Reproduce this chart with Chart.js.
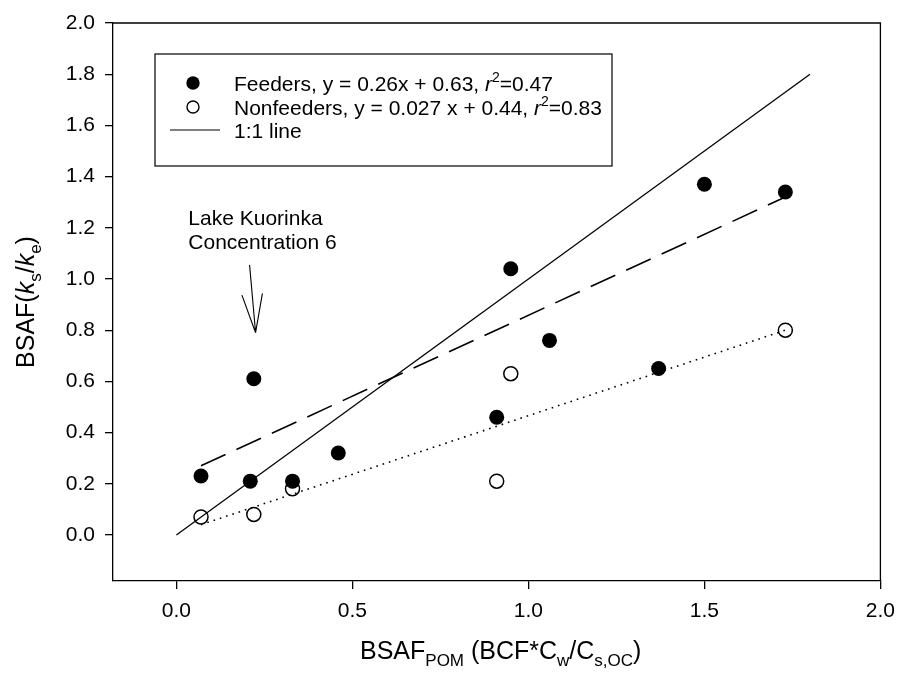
<!DOCTYPE html>
<html lang="en">
<head>
<meta charset="UTF-8" />
<title>BSAF feeders vs nonfeeders</title>
<script src="https://cdn.jsdelivr.net/npm/chart.js"></script>
<style>
  html, body { margin: 0; padding: 0; background: #fff; }
  #wrap { width: 905px; height: 675px; }
</style>
</head>
<body>
<div id="wrap"><canvas id="chart" width="905" height="675"></canvas></div>
<script>
  // data
  const feedersX = [0.07, 0.22, 0.21, 0.33, 0.46, 0.91, 0.95, 1.06, 1.37, 1.50, 1.73];
  const feedersY = [0.23, 0.61, 0.21, 0.21, 0.32, 0.46, 1.04, 0.76, 0.65, 1.37, 1.34];
  const nonfeedersX = [0.07, 0.22, 0.33, 0.91, 0.95, 1.73];
  const nonfeedersY = [0.07, 0.08, 0.18, 0.21, 0.63, 0.80];

  // fitted lines (end points) and 1:1 line
  const feedersFitX = [0.07, 1.73];
  const feedersFitY = [0.27, 1.32];
  const nonfeedersFitX = [0.07, 1.73];
  const nonfeedersFitY = [0.04, 0.80];
  const oneToOneX = [0, 1.8];
  const oneToOneY = [0, 1.8];

  const xTicks = [0, 0.5, 1.0, 1.5, 2.0];
  const yTicks = [0, 0.2, 0.4, 0.6, 0.8, 1.0, 1.2, 1.4, 1.6, 1.8, 2.0];

  const FONT = "'Liberation Sans', Arial, sans-serif";
  const pts = (xs, ys) => xs.map((x, i) => ({ x: x, y: ys[i] }));

  // draw text made of runs: [text, kind] kind = n | i | sub | sup
  function runFont(kind, size) {
    if (kind === 'i') return 'italic ' + size + 'px ' + FONT;
    if (kind === 'sub' || kind === 'sup') return Math.round(size * 0.68) + 'px ' + FONT;
    return size + 'px ' + FONT;
  }
  function drawRuns(ctx, runs, x, y, size, align) {
    let total = 0;
    runs.forEach(r => { ctx.font = runFont(r[1], size); total += ctx.measureText(r[0]).width; });
    let cx = align === 'center' ? x - total / 2 : x;
    runs.forEach(r => {
      ctx.font = runFont(r[1], size);
      let dy = 0;
      if (r[1] === 'sub') dy = size * 0.28;
      if (r[1] === 'sup') dy = -size * 0.42;
      ctx.fillText(r[0], cx, y + dy);
      cx += ctx.measureText(r[0]).width;
    });
  }

  const extras = {
    id: 'extras',
    afterDraw(chart) {
      const ctx = chart.ctx, a = chart.chartArea;
      const xs = chart.scales.x, ys = chart.scales.y;
      ctx.save();
      ctx.strokeStyle = '#000';
      ctx.fillStyle = '#000';

      // frame top/right
      ctx.lineWidth = 1.3;
      ctx.beginPath();
      ctx.moveTo(a.left, a.top); ctx.lineTo(a.right, a.top); ctx.lineTo(a.right, a.bottom);
      ctx.stroke();

      // legend box
      const lx = 155, ly = 54, lw = 457, lh = 112;
      ctx.lineWidth = 1.2;
      ctx.strokeRect(lx, ly, lw, lh);
      ctx.textBaseline = 'middle';
      ctx.beginPath(); ctx.arc(193, 83, 6.7, 0, Math.PI * 2); ctx.fill();
      ctx.beginPath(); ctx.arc(193, 107, 6, 0, Math.PI * 2); ctx.lineWidth = 1.4; ctx.stroke();
      ctx.beginPath(); ctx.moveTo(170, 130); ctx.lineTo(220, 130); ctx.lineWidth = 1.2; ctx.stroke();
      ctx.textBaseline = 'alphabetic';
      drawRuns(ctx, [['Feeders, y = 0.26x + 0.63, ', 'n'], ['r', 'i'], ['2', 'sup'], ['=0.47', 'n']], 234, 91, 21);
      drawRuns(ctx, [['Nonfeeders, y = 0.027 x + 0.44, ', 'n'], ['r', 'i'], ['2', 'sup'], ['=0.83', 'n']], 234, 114.5, 21);
      drawRuns(ctx, [['1:1 line', 'n']], 234, 138, 21);

      // annotation
      ctx.font = '21px ' + FONT;
      ctx.textBaseline = 'middle';
      ctx.fillText('Lake Kuorinka', xs.getPixelForValue(0.034), ys.getPixelForValue(1.235));
      ctx.fillText('Concentration 6', xs.getPixelForValue(0.034), ys.getPixelForValue(1.14));
      const x0 = xs.getPixelForValue(0.208), y0 = ys.getPixelForValue(1.055);
      const x1 = xs.getPixelForValue(0.225), y1 = ys.getPixelForValue(0.79);
      const ang = Math.atan2(y0 - y1, x0 - x1);
      ctx.lineWidth = 1.1;
      ctx.beginPath();
      ctx.moveTo(x0, y0); ctx.lineTo(x1, y1);
      [-0.26, 0.26].forEach(d => {
        ctx.moveTo(x1, y1);
        ctx.lineTo(x1 + 40 * Math.cos(ang + d), y1 + 40 * Math.sin(ang + d));
      });
      ctx.stroke();

      // axis titles
      ctx.textBaseline = 'alphabetic';
      drawRuns(ctx, [['BSAF', 'n'], ['POM', 'sub'], [' (BCF*C', 'n'], ['w', 'sub'], ['/C', 'n'], ['s,OC', 'sub'], [')', 'n']],
        (a.left + a.right) / 2 + 4, 659, 25, 'center');
      ctx.translate(34, (a.top + a.bottom) / 2);
      ctx.rotate(-Math.PI / 2);
      drawRuns(ctx, [['BSAF(', 'n'], ['k', 'i'], ['s', 'sub'], ['/', 'n'], ['k', 'i'], ['e', 'sub'], [')', 'n']], 0, 0, 25, 'center');
      ctx.restore();
    }
  };

  const axisCommon = {
    type: 'linear',
    min: -0.18,
    max: 2.0,
    grid: { drawOnChartArea: false, drawTicks: true, tickLength: 8, color: '#000', lineWidth: 1.3 },
    border: { display: true, color: '#000', width: 1.3 },
    ticks: { color: '#000', font: { family: FONT, size: 21 }, padding: 10, callback: v => v.toFixed(1) }
  };

  new Chart(document.getElementById('chart'), {
    type: 'scatter',
    data: {
      datasets: [
        { label: '1:1 line', data: pts(oneToOneX, oneToOneY), showLine: true, pointRadius: 0,
          borderColor: '#000', borderWidth: 1.3 },
        { label: 'Feeders fit', data: pts(feedersFitX, feedersFitY), showLine: true, pointRadius: 0,
          borderColor: '#000', borderWidth: 1.6, borderDash: [27, 12] },
        { label: 'Nonfeeders fit', data: pts(nonfeedersFitX, nonfeedersFitY), showLine: true, pointRadius: 0,
          borderColor: '#000', borderWidth: 1.6, borderDash: [1.6, 5] },
        { label: 'Feeders', data: pts(feedersX, feedersY), pointRadius: 7.5, pointBackgroundColor: '#000',
          pointBorderColor: '#000', pointBorderWidth: 0 },
        { label: 'Nonfeeders', data: pts(nonfeedersX, nonfeedersY), pointRadius: 7, pointBackgroundColor: 'rgba(0,0,0,0)',
          pointBorderColor: '#000', pointBorderWidth: 1.5 }
      ]
    },
    options: {
      responsive: false,
      animation: false,
      layout: { padding: { top: 23, right: 16, left: 0, bottom: 0 } },
      plugins: { legend: { display: false }, tooltip: { enabled: false } },
      scales: {
        x: Object.assign({}, axisCommon, {
          afterBuildTicks: s => { s.ticks = xTicks.map(v => ({ value: v })); },
          afterFit: s => { s.height = 94; }
        }),
        y: Object.assign({}, axisCommon, {
          afterBuildTicks: s => { s.ticks = yTicks.map(v => ({ value: v })); },
          afterFit: s => { s.width = 113; }
        })
      }
    },
    plugins: [extras]
  });
</script>
</body>
</html>
